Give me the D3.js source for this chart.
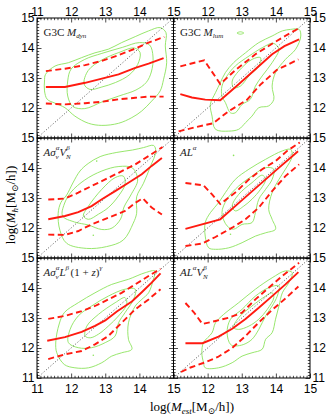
<!DOCTYPE html>
<html><head><meta charset="utf-8">
<script src="https://cdn.jsdelivr.net/npm/d3@7"></script>
<style>body{margin:0;background:#fff}svg{display:block}</style>
</head><body><svg id="c" width="332" height="420"></svg>
<script>
// ---------- tick values ----------
const majorTicks = [11, 12, 13, 14, 15];
const innerTickLabels = [12, 13, 14, 15];
const diag = [[11, 11], [15, 15]];

// ---------- panel 1: G3C M_dyn ----------
const dynMedian = [[11.26,12.70],[11.82,12.70],[12.41,12.84],[12.90,12.98],[13.39,13.12],[13.88,13.34],[14.27,13.48],[14.71,13.66]];
const dynUpper = [[11.26,13.23],[11.82,13.31],[12.41,13.43],[12.90,13.57],[13.39,13.76],[13.88,13.98],[14.27,14.18],[14.73,14.37]];
const dynLower = [[11.26,12.15],[11.82,12.12],[12.41,12.16],[12.90,12.21],[13.39,12.29],[13.88,12.34],[14.27,12.38],[14.71,12.38]];
const dynOuter = [[11.25,13.12],[11.53,13.40],[11.92,13.51],[12.31,13.68],[12.70,13.84],[13.09,13.96],[13.48,14.18],[13.88,14.38],[14.27,14.57],[14.61,14.68],[14.78,14.51],[14.76,14.07],[14.80,13.51],[14.71,12.96],[14.61,12.57],[14.36,12.23],[14.07,11.90],[13.78,11.68],[13.39,11.49],[12.90,11.42],[12.51,11.49],[12.11,11.73],[11.82,12.01],[11.53,12.16],[11.30,12.29],[11.22,12.57],[11.22,12.90]];
const dynMid = [[11.9,12.9],[12.0,13.3],[12.4,13.62],[12.9,13.82],[13.5,14.02],[14.0,14.18],[14.3,14.1],[14.4,13.7],[14.35,13.2],[14.2,12.85],[13.9,12.6],[13.4,12.4],[12.9,12.2],[12.4,11.98],[12.05,12.05],[11.9,12.4]];
const dynInner = [[12.38,12.8],[12.5,13.25],[12.9,13.6],[13.4,13.85],[13.85,14.0],[14.02,13.85],[13.95,13.45],[13.7,13.1],[13.3,12.85],[12.9,12.7],[12.55,12.62]];

// ---------- panel 2: G3C M_lum ----------
const lumMedian = [[11.20,12.46],[11.54,12.35],[11.93,12.28],[12.37,12.26],[12.91,12.79],[13.40,13.29],[13.89,13.79],[14.25,14.06],[14.68,14.29]];
const lumUpper = [[11.20,13.39],[11.90,13.59],[12.37,12.80],[12.81,13.26],[13.40,13.79],[13.89,14.14],[14.33,14.44],[14.68,14.66]];
const lumLower = [[11.15,11.22],[11.6,11.35],[12.16,11.49],[12.6,11.88],[13.15,12.27],[13.54,12.77],[14.03,13.27],[14.66,13.62]];
const lumOuter = [[14.43,14.62],[14.68,14.62],[14.73,14.40],[14.58,13.96],[14.28,13.62],[13.99,13.18],[13.89,12.73],[13.94,12.29],[13.79,12.07],[13.50,12.01],[13.30,11.73],[13.11,11.51],[12.91,11.29],[12.62,11.23],[12.23,11.29],[12.13,11.73],[12.08,12.12],[12.23,12.51],[12.37,12.84],[12.52,13.18],[12.76,13.51],[13.11,13.84],[13.50,14.18],[13.89,14.40],[14.19,14.57]];
const lumMid = [[13.99,14.12],[14.09,13.96],[13.89,13.51],[13.60,13.07],[13.40,12.73],[13.25,12.29],[13.01,12.12],[12.81,11.84],[12.67,11.84],[12.52,12.18],[12.42,12.40],[12.42,12.73],[12.57,13.07],[12.81,13.40],[13.21,13.73],[13.60,14.01],[13.89,14.16]];
const lumInner = [[12.72,12.90],[12.91,13.23],[13.30,13.62],[13.55,13.68],[13.50,13.40],[13.21,13.07],[12.96,12.73],[12.76,12.68]];
const lumIsland = [[12.86,14.5],[12.96,14.54],[13.06,14.5],[12.96,14.46]];

// ---------- panel 3: A sigma^a V_N^b ----------
const asvMedian = [[11.33,12.29],[11.82,12.40],[12.21,12.53],[12.60,12.73],[12.90,12.96],[13.29,13.23],[13.68,13.51],[14.07,13.79],[14.36,14.07],[14.66,14.33]];
const asvUpper = [[11.33,12.95],[11.82,12.98],[12.21,13.18],[12.60,13.40],[13.0,13.62],[13.39,13.84],[13.88,14.12],[14.27,14.40],[14.68,14.70]];
const asvLower = [[11.33,11.78],[11.82,11.77],[12.21,11.90],[12.60,12.12],[13.09,12.34],[13.58,12.57],[13.88,12.84],[14.1,12.99],[14.36,12.68],[14.66,12.45]];
const asvOuter = [[11.62,12.49],[11.70,12.85],[11.87,13.10],[12.05,13.5],[12.26,13.9],[12.5,14.15],[12.85,14.38],[13.34,14.52],[13.8,14.6],[14.12,14.68],[14.42,14.75],[14.48,14.55],[14.32,14.04],[14.12,13.49],[13.92,13.04],[13.92,12.49],[13.82,12.16],[13.53,11.6],[13.04,11.38],[12.45,11.32],[11.87,11.49],[11.67,11.93]];
const asvMid = [[11.75,12.4],[11.8,12.8],[12.0,13.2],[12.4,13.6],[12.9,13.9],[13.4,14.05],[13.8,14.0],[13.95,13.6],[13.75,13.1],[13.55,12.7],[13.45,12.3],[13.2,12.0],[12.9,11.95],[12.5,12.1],[12.1,12.2]];
const asvInner = [[12.36,12.4],[12.51,12.73],[12.90,13.29],[13.29,13.68],[13.53,13.73],[13.58,13.46],[13.39,13.07],[13.09,12.68],[12.80,12.46],[12.51,12.29]];
const asvDots = [[12.75,14.23],[12.65,11.76]];

// ---------- panel 4: A L^a ----------
const alMedian = [[11.35,11.97],[12.37,12.29],[13.0,12.92],[13.5,13.42],[14.0,13.92],[14.65,14.56]];
const alUpper = [[11.35,13.5],[11.88,13.42],[12.13,13.12],[12.37,12.8],[12.83,13.2],[13.21,13.62],[13.60,13.96],[13.99,14.23],[14.33,14.57],[14.7,14.85]];
const alLower = [[11.35,11.4],[11.83,11.48],[12.23,11.7],[12.72,12.01],[13.11,12.29],[13.50,12.68],[13.89,13.23],[14.28,13.73],[14.68,14.12]];
const alOuter = [[12.03,11.34],[11.93,11.73],[11.93,12.18],[12.08,12.51],[12.32,12.84],[12.52,13.18],[12.81,13.62],[13.21,13.96],[13.70,14.29],[14.19,14.57],[14.43,14.62],[14.48,14.40],[14.28,13.96],[14.09,13.62],[13.89,13.18],[13.79,12.62],[13.89,12.29],[13.99,11.96],[13.70,11.84],[13.40,11.73],[13.01,11.51],[12.62,11.34],[12.23,11.29]];
const alMid = [[12.57,12.07],[12.42,12.51],[12.57,12.96],[12.91,13.40],[13.30,13.73],[13.70,14.01],[13.94,13.96],[13.89,13.62],[13.70,13.29],[13.50,12.96],[13.40,12.51],[13.30,12.18],[13.01,12.12],[12.76,11.96]];
const alInner = [[12.72,12.73],[12.91,13.12],[13.30,13.51],[13.60,13.76],[13.70,13.62],[13.55,13.29],[13.30,12.96],[13.06,12.73],[12.81,12.57]];
const alDots = [[12.76,14.42],[12.67,11.79]];

// ---------- panel 5: A sigma^a L^b (1+z)^g ----------
const szMedian = [[11.3,12.24],[11.82,12.36],[12.31,12.54],[12.70,12.74],[13.0,12.92],[13.34,13.22],[13.78,13.55],[14.07,13.86],[14.36,14.18],[14.62,14.49]];
const szUpper = [[11.33,12.97],[11.82,13.07],[12.31,13.23],[12.70,13.40],[13.09,13.62],[13.48,13.84],[13.88,14.12],[14.27,14.40],[14.62,14.64]];
const szLower = [[11.33,11.63],[11.82,11.79],[12.31,11.90],[12.70,12.12],[13.09,12.40],[13.48,12.84],[13.88,13.29],[14.27,13.62],[14.62,13.96]];
const szOuter = [[11.8,11.45],[11.58,11.84],[11.55,12.2],[11.65,12.8],[11.8,13.18],[12.21,13.51],[12.70,13.84],[13.19,14.12],[13.68,14.29],[14.17,14.51],[14.46,14.57],[14.41,14.29],[14.27,13.84],[14.07,13.62],[13.88,13.40],[13.68,12.84],[13.68,12.29],[13.78,11.96],[13.48,11.84],[13.19,11.73],[12.90,11.51],[12.51,11.34],[12.11,11.34]];
const szMid = [[11.92,12.18],[11.97,12.62],[12.21,13.07],[12.60,13.40],[13.09,13.73],[13.58,13.96],[13.88,13.96],[13.83,13.62],[13.58,13.18],[13.39,12.84],[13.29,12.40],[13.0,12.18],[12.60,12.01],[12.21,12.01]];
const szInner = [[12.41,12.40],[12.46,12.73],[12.80,13.12],[13.29,13.51],[13.58,13.68],[13.63,13.46],[13.39,13.07],[13.09,12.73],[12.80,12.46],[12.56,12.34]];
const szDots = [[12.65,11.76]];

// ---------- panel 6: A L^a V_N^b ----------
const alvMedian = [[11.35,12.16],[11.85,12.16],[12.32,12.38],[12.72,12.64],[13.11,12.97],[13.50,13.34],[13.89,13.73],[14.28,14.12],[14.66,14.53]];
const alvUpper = [[11.35,13.5],[11.59,13.2],[11.85,12.8],[12.23,12.9],[12.62,13.01],[13.01,13.18],[13.40,13.62],[13.79,14.01],[14.19,14.40],[14.68,14.84]];
const alvLower = [[11.22,11.2],[11.5,11.35],[11.87,11.5],[12.3,11.7],[12.72,12.0],[13.11,12.4],[13.5,12.85],[13.89,13.27],[14.28,13.65],[14.66,14.05]];
const alvOuter = [[11.88,11.51],[11.83,11.84],[11.88,12.18],[12.13,12.51],[12.23,12.84],[12.47,13.12],[12.91,13.51],[13.40,13.96],[13.89,14.34],[14.28,14.57],[14.48,14.51],[14.38,14.18],[14.19,13.84],[14.09,13.40],[13.99,12.96],[13.89,12.51],[13.70,12.29],[13.60,11.96],[13.30,11.84],[13.01,11.73],[12.72,11.51],[12.32,11.34],[11.93,11.34]];
const alvMid = [[12.67,12.12],[12.57,12.51],[12.67,12.96],[13.01,13.29],[13.40,13.73],[13.79,14.01],[14.09,14.07],[14.04,13.73],[13.89,13.40],[13.70,13.07],[13.50,12.62],[13.30,12.29],[13.06,12.12],[12.81,12.07]];
const alvInner = [[12.76,12.68],[12.91,13.01],[13.30,13.40],[13.70,13.73],[13.89,13.84],[13.94,13.68],[13.75,13.29],[13.50,12.96],[13.21,12.73],[12.91,12.62]];

// ---------- layout ----------
const colX = [[37, 173.5], [173.5, 310]];
const rowY = [[18, 138], [138, 258], [258, 378]];
const GREEN = "#8ce35c", RED = "#ff1a10";
const SERIF = "'Liberation Serif','DejaVu Serif',serif";
const SANS = "'Liberation Sans',Arial,sans-serif";

const S = 7;      // script size
const UP = -5.6;  // superscript offset
const DN = 3.3;   // subscript offset
const BK = -3.8;  // step back so a subscript sits under its superscript
const panels = [
  {r:0,c:0, median:dynMedian, upper:dynUpper, lower:dynLower, cont:[dynOuter,dynMid,dynInner], islands:[], dots:[],
   label:[{t:"G3C "},{t:"M",i:1},{t:"dyn",i:1,o:2.5,s:S}]},
  {r:0,c:1, median:lumMedian, upper:lumUpper, lower:lumLower, cont:[lumOuter,lumMid,lumInner], islands:[lumIsland], dots:[],
   label:[{t:"G3C "},{t:"M",i:1},{t:"lum",i:1,o:2.5,s:S}]},
  {r:1,c:0, median:asvMedian, upper:asvUpper, lower:asvLower, cont:[asvOuter,asvMid,asvInner], islands:[], dots:asvDots,
   label:[{t:"Aσ",i:1},{t:"α",i:1,o:UP,s:S},{t:"v",i:1,o:DN,s:S,dx:BK},{t:"V",i:1,dx:0.8},{t:"β",i:1,o:UP,s:S},{t:"N",i:1,o:DN,s:S,dx:BK}]},
  {r:1,c:1, median:alMedian, upper:alUpper, lower:alLower, cont:[alOuter,alMid,alInner], islands:[], dots:alDots,
   label:[{t:"AL",i:1},{t:"α",i:1,o:UP,s:S}]},
  {r:2,c:0, median:szMedian, upper:szUpper, lower:szLower, cont:[szOuter,szMid,szInner], islands:[], dots:szDots,
   label:[{t:"Aσ",i:1},{t:"α",i:1,o:UP,s:S},{t:"v",i:1,o:DN,s:S,dx:BK},{t:"L",i:1,dx:0.8},{t:"β",i:1,o:UP,s:S},{t:"(1 + ",dx:1.5},{t:"z",i:1},{t:")"},{t:"γ",i:1,o:UP,s:S}]},
  {r:2,c:1, median:alvMedian, upper:alvUpper, lower:alvLower, cont:[alvOuter,alvMid,alvInner], islands:[], dots:[],
   label:[{t:"AL",i:1},{t:"α",i:1,o:UP,s:S},{t:"V",i:1},{t:"β",i:1,o:UP,s:S},{t:"N",i:1,o:DN,s:S,dx:BK}]}
];

const svg = d3.select("#c");

function richText(sel, segs, size) {
  let cur = 0;
  segs.forEach(sg => {
    const off = sg.o || 0;
    sel.append("tspan")
      .attr("dy", off - cur)
      .attr("dx", sg.dx || 0)
      .attr("font-style", sg.i ? "italic" : "normal")
      .attr("font-size", sg.s || size)
      .text(sg.t);
    cur = off;
  });
}

const minorTicks = d3.range(11, 15.001, 0.1).map(v => +v.toFixed(1)).filter(v => Math.abs(v - Math.round(v)) > 1e-6);

panels.forEach(p => {
  const [x0, x1] = colX[p.c], [y0, y1] = rowY[p.r];
  const x = d3.scaleLinear().domain([11, 15]).range([x0, x1]);
  const y = d3.scaleLinear().domain([11, 15]).range([y1, y0]);
  const g = svg.append("g");
  const closed = d3.line().x(d => x(d[0])).y(d => y(d[1])).curve(d3.curveCatmullRomClosed.alpha(0.5));
  const open = d3.line().x(d => x(d[0])).y(d => y(d[1]));

  g.selectAll(".ct").data(p.cont.concat(p.islands)).join("path")
    .attr("d", closed).attr("fill", "none").attr("stroke", GREEN).attr("stroke-width", 0.9);
  g.selectAll(".dt").data(p.dots).join("circle")
    .attr("cx", d => x(d[0])).attr("cy", d => y(d[1])).attr("r", 0.8).attr("fill", GREEN);

  g.append("path").attr("d", open(diag)).attr("fill", "none")
    .attr("stroke", "#555").attr("stroke-width", 1).attr("stroke-dasharray", "1,2");

  g.append("path").attr("d", open(p.upper)).attr("fill", "none").attr("stroke", RED)
    .attr("stroke-width", 1.9).attr("stroke-dasharray", "6,3.5");
  g.append("path").attr("d", open(p.lower)).attr("fill", "none").attr("stroke", RED)
    .attr("stroke-width", 1.9).attr("stroke-dasharray", "6,3.5");
  g.append("path").attr("d", open(p.median)).attr("fill", "none").attr("stroke", RED)
    .attr("stroke-width", 1.9);

  // ticks (inward, all four sides)
  const tickSets = [[majorTicks, 4.5], [minorTicks, 2.2]];
  tickSets.forEach(([vals, len]) => {
    const axes = [
      [d3.axisTop(x), `translate(0,${y0})`],
      [d3.axisBottom(x), `translate(0,${y1})`],
      [d3.axisLeft(y), `translate(${x0},0)`],
      [d3.axisRight(y), `translate(${x1},0)`]
    ];
    axes.forEach(([ax, tr]) => {
      const a = g.append("g").attr("transform", tr)
        .call(ax.tickValues(vals).tickSize(-len).tickSizeOuter(0).tickFormat(""));
      a.select(".domain").remove();
      a.selectAll("line").attr("stroke", "#000").attr("stroke-width", 0.7);
    });
  });

  g.append("rect").attr("x", x0).attr("y", y0).attr("width", x1 - x0).attr("height", y1 - y0)
    .attr("fill", "none").attr("stroke", "#000").attr("stroke-width", 1);

  // tick labels
  const styleLabels = a => {
    a.select(".domain").remove();
    a.selectAll("line").remove();
    a.selectAll("text").attr("font-family", SANS).attr("font-size", 12).attr("fill", "#000");
  };
  const xVals = p.c === 0 ? majorTicks : innerTickLabels;
  const yVals = p.r === 2 ? majorTicks : innerTickLabels;
  if (p.r === 0) g.append("g").attr("transform", `translate(0,${y0})`)
    .call(d3.axisTop(x).tickValues(xVals).tickSize(0).tickPadding(1.8).tickFormat(d3.format("d"))).call(styleLabels);
  if (p.r === 2) g.append("g").attr("transform", `translate(0,${y1})`)
    .call(d3.axisBottom(x).tickValues(xVals).tickSize(0).tickPadding(6.5).tickFormat(d3.format("d"))).call(styleLabels);
  if (p.c === 0) g.append("g").attr("transform", `translate(${x0},0)`)
    .call(d3.axisLeft(y).tickValues(yVals).tickSize(0).tickPadding(2.5).tickFormat(d3.format("d"))).call(styleLabels);
  if (p.c === 1) g.append("g").attr("transform", `translate(${x1},0)`)
    .call(d3.axisRight(y).tickValues(yVals).tickSize(0).tickPadding(2.5).tickFormat(d3.format("d"))).call(styleLabels);

  const t = g.append("text").attr("x", x0 + 6.5).attr("y", y0 + 17.5)
    .attr("font-family", SERIF).attr("font-size", 11).attr("fill", "#222");
  richText(t, p.label, 11);
});

// axis titles
const xt = svg.append("text").attr("x", 192).attr("y", 411).attr("text-anchor", "middle")
  .attr("font-family", SERIF).attr("font-size", 13).attr("fill", "#000");
richText(xt, [{t:"log("},{t:"M",i:1},{t:"est",i:1,o:3,s:9},{t:"[M"},{t:"⊙",o:3,s:9},{t:"/h])"}], 13);

const yt = svg.append("text").attr("transform", "translate(15,205) rotate(-90)").attr("text-anchor", "middle")
  .attr("font-family", SERIF).attr("font-size", 13).attr("fill", "#000");
richText(yt, [{t:"log("},{t:"M",i:1},{t:"h",i:1,o:3,s:9},{t:"[M"},{t:"⊙",o:3,s:9},{t:"/h])"}], 13);
</script></body></html>
